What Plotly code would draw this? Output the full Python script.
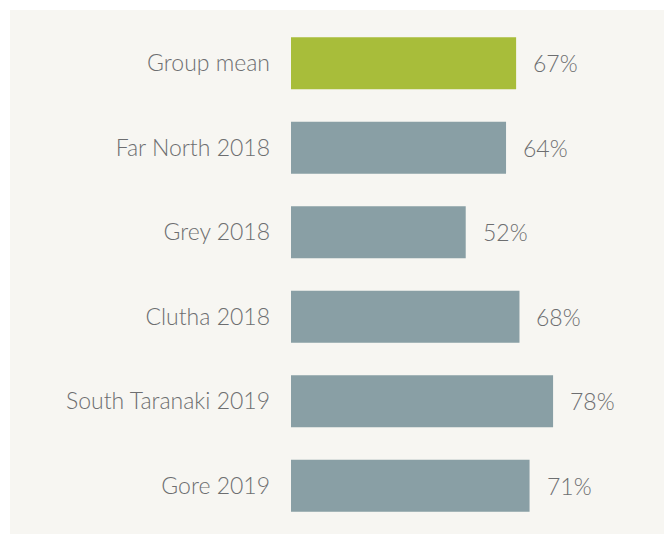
import plotly.graph_objects as go

categories = ["Group mean", "Far North 2018", "Grey 2018", "Clutha 2018", "South Taranaki 2019", "Gore 2019"]
values = [67, 64, 52, 68, 78, 71]
bar_colors = ["#a8bd3a", "#899fa5", "#899fa5", "#899fa5", "#899fa5", "#899fa5"]
value_labels = [f"{v}%" for v in values]

W, H = 664, 534
L, R, T, B = 291, 37, 21, 6
pw, ph = W - L - R, H - T - B

def px_x(p):
    return (p - L) / pw

def px_y(p):
    return (T + ph - p) / ph

fig = go.Figure()
fig.add_trace(go.Bar(
    y=categories, x=values, orientation="h",
    marker=dict(color=bar_colors, line=dict(width=0)),
    hoverinfo="skip",
))

for c, v, t in zip(categories, values, value_labels):
    fig.add_annotation(x=v, y=c, text=t, showarrow=False, xanchor="left",
                       xshift=15, yshift=0,
                       font=dict(family="Lato", size=23, color="#6d6e70", weight=300))

# white frame strips on top and left
fig.add_shape(type="rect", xref="paper", yref="paper",
              x0=px_x(-5), x1=px_x(W + 5), y0=px_y(10), y1=px_y(-5),
              fillcolor="white", line=dict(width=0), layer="below")
fig.add_shape(type="rect", xref="paper", yref="paper",
              x0=px_x(-5), x1=px_x(10), y0=px_y(H + 5), y1=px_y(-5),
              fillcolor="white", line=dict(width=0), layer="below")

fig.update_layout(
    width=W, height=H,
    margin=dict(l=L, r=R, t=T, b=B),
    paper_bgcolor="#f7f6f2", plot_bgcolor="rgba(0,0,0,0)",
    showlegend=False, bargap=0.385,
    xaxis=dict(range=[0, 100], visible=False, fixedrange=True),
    yaxis=dict(autorange="reversed", showgrid=False, zeroline=False, showline=False,
               ticks="", ticklabelstandoff=20, fixedrange=True,
               tickfont=dict(family="Lato", size=23, color="#6d6e70", weight=300)),
)

fig.write_html("out.html", config={"displayModeBar": False},
               post_script="document.body.style.margin='0';document.body.style.overflow='hidden';")
